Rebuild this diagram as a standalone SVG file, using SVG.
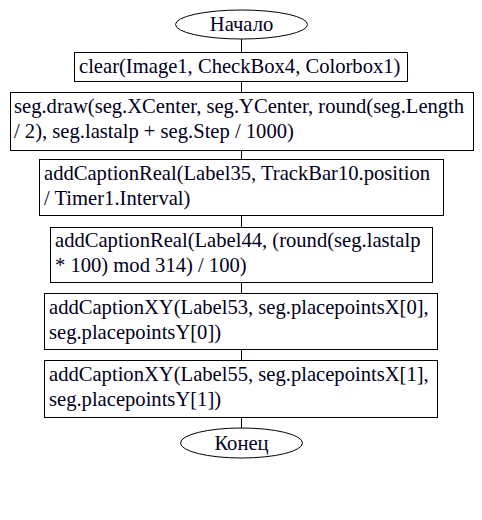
<svg xmlns="http://www.w3.org/2000/svg" width="482" height="520" viewBox="0 0 482 520">
<style>
.n{fill:#fff;stroke:#000;stroke-width:1}
.e{fill:#fff;stroke:#000;stroke-width:1}
.t{font-family:"Liberation Serif","Times New Roman",serif;font-size:20.6px;fill:#000020}
.c{stroke:#000;stroke-width:1;fill:none}
</style>
<rect width="482" height="520" fill="#fff"/>
<g id="connectors">
<line class="c" x1="241.5" y1="39" x2="241.5" y2="52"/>
<line class="c" x1="241.5" y1="81" x2="241.5" y2="92"/>
<line class="c" x1="241.5" y1="150" x2="241.5" y2="159"/>
<line class="c" x1="241.5" y1="215" x2="241.5" y2="227"/>
<line class="c" x1="241.5" y1="282" x2="241.5" y2="293"/>
<line class="c" x1="241.5" y1="349" x2="241.5" y2="360"/>
<line class="c" x1="241.5" y1="417" x2="241.5" y2="428"/>
</g>
<g id="start">
<ellipse class="e" cx="241.5" cy="24.5" rx="66" ry="14.5"/>
<text class="t" x="241.5" y="31" text-anchor="middle">Начало</text>
</g>
<g id="box1">
<rect class="n" x="74.5" y="52.5" width="333" height="29"/>
<text class="t" x="79" y="73">clear(Image1, CheckBox4, Colorbox1)</text>
</g>
<g id="box2">
<rect class="n" x="10.5" y="92.5" width="463" height="58"/>
<text class="t" x="14" y="113">seg.draw(seg.XCenter, seg.YCenter, round(seg.Length</text>
<text class="t" x="14" y="138">/ 2), seg.lastalp + seg.Step / 1000)</text>
</g>
<g id="box3">
<rect class="n" x="39.5" y="159.5" width="404" height="56"/>
<text class="t" x="44" y="180">addCaptionReal(Label35, TrackBar10.position</text>
<text class="t" x="44" y="205">/ Timer1.Interval)</text>
</g>
<g id="box4">
<rect class="n" x="50.5" y="227.5" width="382" height="55"/>
<text class="t" x="55" y="247">addCaptionReal(Label44, (round(seg.lastalp</text>
<text class="t" x="55" y="272">* 100) mod 314) / 100)</text>
</g>
<g id="box5">
<rect class="n" x="44.5" y="293.5" width="393" height="56"/>
<text class="t" x="49" y="314">addCaptionXY(Label53, seg.placepointsX[0],</text>
<text class="t" x="49" y="339">seg.placepointsY[0])</text>
</g>
<g id="box6">
<rect class="n" x="44.5" y="360.5" width="393" height="57"/>
<text class="t" x="49" y="381">addCaptionXY(Label55, seg.placepointsX[1],</text>
<text class="t" x="49" y="406">seg.placepointsY[1])</text>
</g>
<g id="end">
<ellipse class="e" cx="241.5" cy="443" rx="61" ry="15"/>
<text class="t" x="241.5" y="449.5" text-anchor="middle">Конец</text>
</g>
</svg>
